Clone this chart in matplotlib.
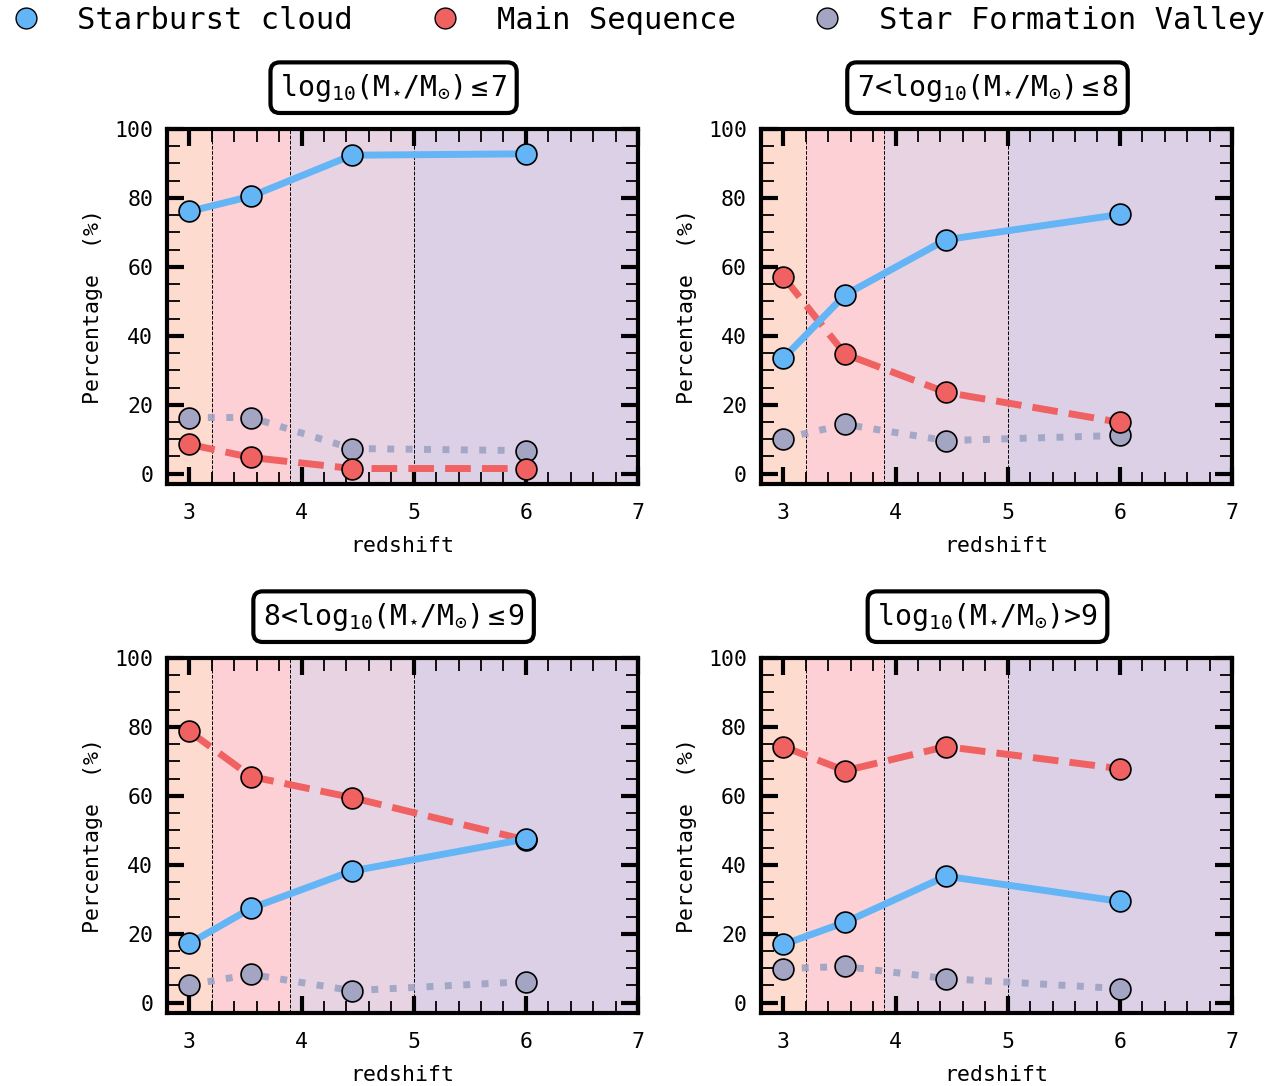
import numpy as np
import matplotlib
matplotlib.use('Agg')
import matplotlib.pyplot as plt
from matplotlib.lines import Line2D
from matplotlib.ticker import MultipleLocator

plt.rcParams['font.family'] = 'DejaVu Sans Mono'
plt.rcParams['mathtext.fontset'] = 'custom'
plt.rcParams['mathtext.rm'] = 'DejaVu Sans Mono'
plt.rcParams['mathtext.it'] = 'DejaVu Sans Mono'
plt.rcParams['mathtext.bf'] = 'DejaVu Sans Mono'

# redshift bins
redshift = [3.0, 3.55, 4.45, 6.0]

titles = [r'log$_{10}$(M$_{\star}$/M$_{\odot}$)$\leq$7',
          r'7<log$_{10}$(M$_{\star}$/M$_{\odot}$)$\leq$8',
          r'8<log$_{10}$(M$_{\star}$/M$_{\odot}$)$\leq$9',
          r'log$_{10}$(M$_{\star}$/M$_{\odot}$)>9']

# percentages per mass bin
starburst = [[76.1, 80.5, 92.4, 92.8],
             [33.5, 51.9, 67.9, 75.2],
             [17.2, 27.4, 38.2, 47.5],
             [16.9, 23.3, 36.7, 29.4]]
main_seq = [[8.5, 4.7, 1.5, 1.5],
            [57.1, 34.7, 23.6, 14.9],
            [78.7, 65.6, 59.5, 47.2],
            [74.3, 67.3, 74.3, 67.9]]
valley = [[16.3, 16.3, 7.3, 6.7],
          [10.2, 14.3, 9.6, 11.1],
          [5.2, 8.2, 3.5, 6.1],
          [9.9, 10.5, 7.0, 4.1]]

# background redshift bands
band_edges = [2.8, 3.2, 3.9, 5.0, 7.0]
band_colors = ['#FEDBCF', '#FDD0D5', '#E8D3E3', '#DCD0E7']

c_sb = '#64B5F6'
c_ms = '#F06262'
c_sfv = '#A3A5C3'

fig = plt.figure(figsize=(12.83, 10.86), dpi=100)
lefts = [0.1302, 0.5931]
bottoms = [0.5543, 0.0672]
w, h = 0.3671, 0.3269

for k in range(4):
    ax = fig.add_axes([lefts[k % 2], bottoms[k // 2], w, h])
    for i in range(4):
        ax.axvspan(band_edges[i], band_edges[i + 1], color=band_colors[i], lw=0, zorder=0)
    for xe in band_edges[1:-1]:
        ax.axvline(xe, color='black', ls='--', lw=0.7, zorder=1)

    ax.plot(redshift, valley[k], ls=':', lw=5, color='#9DA3C3', alpha=0.9, zorder=2)
    ax.plot(redshift, main_seq[k], ls='--', lw=5, color=c_ms, zorder=2)
    ax.plot(redshift, starburst[k], ls='-', lw=5, color=c_sb, zorder=2)
    ax.plot(redshift, valley[k], 'o', ms=15, mfc=c_sfv, mec='black', mew=1.2, ls='none', zorder=3)
    ax.plot(redshift, main_seq[k], 'o', ms=15, mfc=c_ms, mec='black', mew=1.2, ls='none', zorder=3)
    ax.plot(redshift, starburst[k], 'o', ms=15, mfc=c_sb, mec='black', mew=1.2, ls='none', zorder=3)

    ax.set_xlim(2.8, 7)
    ax.set_ylim(-3, 100)
    ax.xaxis.set_major_locator(MultipleLocator(1))
    ax.xaxis.set_minor_locator(MultipleLocator(0.2))
    ax.yaxis.set_major_locator(MultipleLocator(20))
    ax.yaxis.set_minor_locator(MultipleLocator(5))
    ax.tick_params(which='both', direction='in', top=True, right=True, labelsize=15.5)
    ax.tick_params(axis='x', which='both', pad=14)
    ax.tick_params(axis='y', which='both', pad=10)
    ax.tick_params(which='major', length=12, width=3)
    ax.tick_params(which='minor', length=9, width=1.3)
    for s in ax.spines.values():
        s.set_linewidth(3)

    ax.set_xlabel('redshift', fontsize=15.5, labelpad=9)
    ax.set_ylabel('Percentage  (%)', fontsize=15.5, labelpad=8)
    ax.set_title(titles[k], fontsize=20.3, pad=24, x=0.481,
                 bbox=dict(boxstyle='round,pad=0.33', fc='white', ec='black', lw=3))

handles = [Line2D([], [], ls='none', marker='o', ms=15, mfc=c, mec='black', mew=1.0)
           for c in [c_sb, c_ms, c_sfv]]
fig.legend(handles, ['Starburst cloud', 'Main Sequence', 'Star Formation Valley'],
           loc='upper center', bbox_to_anchor=(0.497, 1.02), ncol=3, frameon=False,
           fontsize=22, handlelength=1.0, handletextpad=1.2, columnspacing=2.5)

fig.savefig('out.png', dpi=100)
